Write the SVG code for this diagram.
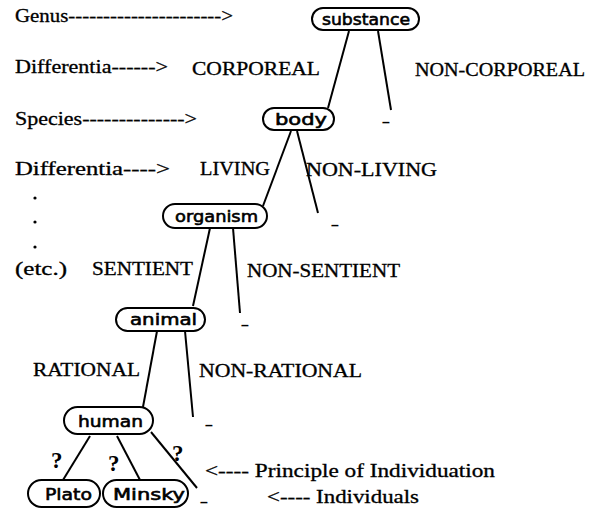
<svg xmlns="http://www.w3.org/2000/svg" width="607" height="510" viewBox="0 0 607 510">
<style>
.bg{fill:#fff}
.lbl{font-family:"Liberation Serif","Times New Roman",serif;font-size:18px;fill:#000;stroke:#000;stroke-width:0.3}
.nt{font-family:"DejaVu Sans","Liberation Sans",sans-serif;font-size:16px;fill:#000;stroke:#000;stroke-width:0.6}
.nd{fill:#fff;stroke:#000;stroke-width:2}
.ln{stroke:#000;stroke-width:2;fill:none}
.q{font-family:"Liberation Serif","Times New Roman",serif;font-size:23px;font-weight:bold;fill:#000}
.dash{font-family:"Liberation Sans",Arial,sans-serif;font-size:14px;font-weight:bold;fill:#000}
</style>
<rect class="bg" x="0" y="0" width="607" height="510"/>
<g id="labels">
<text class="lbl" x="15" y="22" textLength="218" lengthAdjust="spacingAndGlyphs">Genus----------------------&gt;</text>
<text class="lbl" x="15" y="73" textLength="153" lengthAdjust="spacingAndGlyphs">Differentia------&gt;</text>
<text class="lbl" x="192" y="75" textLength="128" lengthAdjust="spacingAndGlyphs">CORPOREAL</text>
<text class="lbl" x="415" y="76" textLength="170" lengthAdjust="spacingAndGlyphs">NON-CORPOREAL</text>
<text class="lbl" x="15" y="125" textLength="182" lengthAdjust="spacingAndGlyphs">Species--------------&gt;</text>
<text class="lbl" x="15" y="175" textLength="155" lengthAdjust="spacingAndGlyphs">Differentia----&gt;</text>
<text class="lbl" x="200" y="175" textLength="70" lengthAdjust="spacingAndGlyphs">LIVING</text>
<text class="lbl" x="306" y="176" textLength="131" lengthAdjust="spacingAndGlyphs">NON-LIVING</text>
<circle cx="35" cy="198" r="1.6" fill="#000"/>
<circle cx="35" cy="222" r="1.6" fill="#000"/>
<circle cx="35" cy="247" r="1.6" fill="#000"/>
<text class="lbl" x="15" y="275" textLength="52" lengthAdjust="spacingAndGlyphs">(etc.)</text>
<text class="lbl" x="92" y="275" textLength="101" lengthAdjust="spacingAndGlyphs">SENTIENT</text>
<text class="lbl" x="247" y="277" textLength="153" lengthAdjust="spacingAndGlyphs">NON-SENTIENT</text>
<text class="lbl" x="33" y="376" textLength="107" lengthAdjust="spacingAndGlyphs">RATIONAL</text>
<text class="lbl" x="199" y="377" textLength="163" lengthAdjust="spacingAndGlyphs">NON-RATIONAL</text>
<text class="lbl" x="205" y="477" textLength="290" lengthAdjust="spacingAndGlyphs">&lt;---- Principle of Individuation</text>
<text class="lbl" x="267" y="503" textLength="152" lengthAdjust="spacingAndGlyphs">&lt;---- Individuals</text>
</g>
<g id="connectors">
<line class="ln" x1="349" y1="31" x2="328" y2="108"/>
<line class="ln" x1="378" y1="31" x2="391" y2="110"/>
<line class="ln" x1="291" y1="131" x2="263" y2="206"/>
<line class="ln" x1="297" y1="131" x2="318" y2="213"/>
<line class="ln" x1="210" y1="228" x2="193" y2="306"/>
<line class="ln" x1="233" y1="228" x2="240" y2="313"/>
<line class="ln" x1="157" y1="331" x2="143" y2="407"/>
<line class="ln" x1="185" y1="331" x2="193" y2="417"/>
<line class="ln" x1="90" y1="436" x2="63" y2="480"/>
<line class="ln" x1="117" y1="436" x2="140" y2="480"/>
<line class="ln" x1="151" y1="432" x2="197" y2="488"/>
<text class="q" x="51" y="468">?</text>
<text class="q" x="108" y="471">?</text>
<text class="q" x="172" y="461">?</text>
</g>
<g id="substance"><rect class="nd" x="312" y="8" width="107" height="22" rx="11"/><text class="nt" x="322" y="25" textLength="88" lengthAdjust="spacingAndGlyphs">substance</text></g>
<g id="body"><rect class="nd" x="263" y="108" width="71" height="22" rx="11"/><text class="nt" x="275" y="125" textLength="52" lengthAdjust="spacingAndGlyphs">body</text></g>
<g id="organism"><rect class="nd" x="163" y="204" width="104" height="24" rx="12"/><text class="nt" x="175" y="222" textLength="83" lengthAdjust="spacingAndGlyphs">organism</text></g>
<g id="animal"><rect class="nd" x="116" y="308" width="89" height="23" rx="11.5"/><text class="nt" x="130" y="325" textLength="67" lengthAdjust="spacingAndGlyphs">animal</text></g>
<g id="human"><rect class="nd" x="64" y="407" width="89" height="27" rx="13.5"/><text class="nt" x="78" y="427" textLength="65" lengthAdjust="spacingAndGlyphs">human</text></g>
<g id="plato"><rect class="nd" x="28" y="480" width="72" height="27" rx="13.5"/><text class="nt" x="45" y="500" textLength="47" lengthAdjust="spacingAndGlyphs">Plato</text></g>
<g id="minsky"><rect class="nd" x="103" y="480" width="85" height="27" rx="13.5"/><text class="nt" x="113" y="500" textLength="72" lengthAdjust="spacingAndGlyphs">Minsky</text></g>
<g id="blank1"><text class="dash" x="382" y="127">–</text></g>
<g id="blank2"><text class="dash" x="331" y="230">–</text></g>
<g id="blank3"><text class="dash" x="241" y="330">–</text></g>
<g id="blank4"><text class="dash" x="205" y="430">–</text></g>
<g id="blank5"><text class="dash" x="200" y="507">–</text></g>
</svg>
